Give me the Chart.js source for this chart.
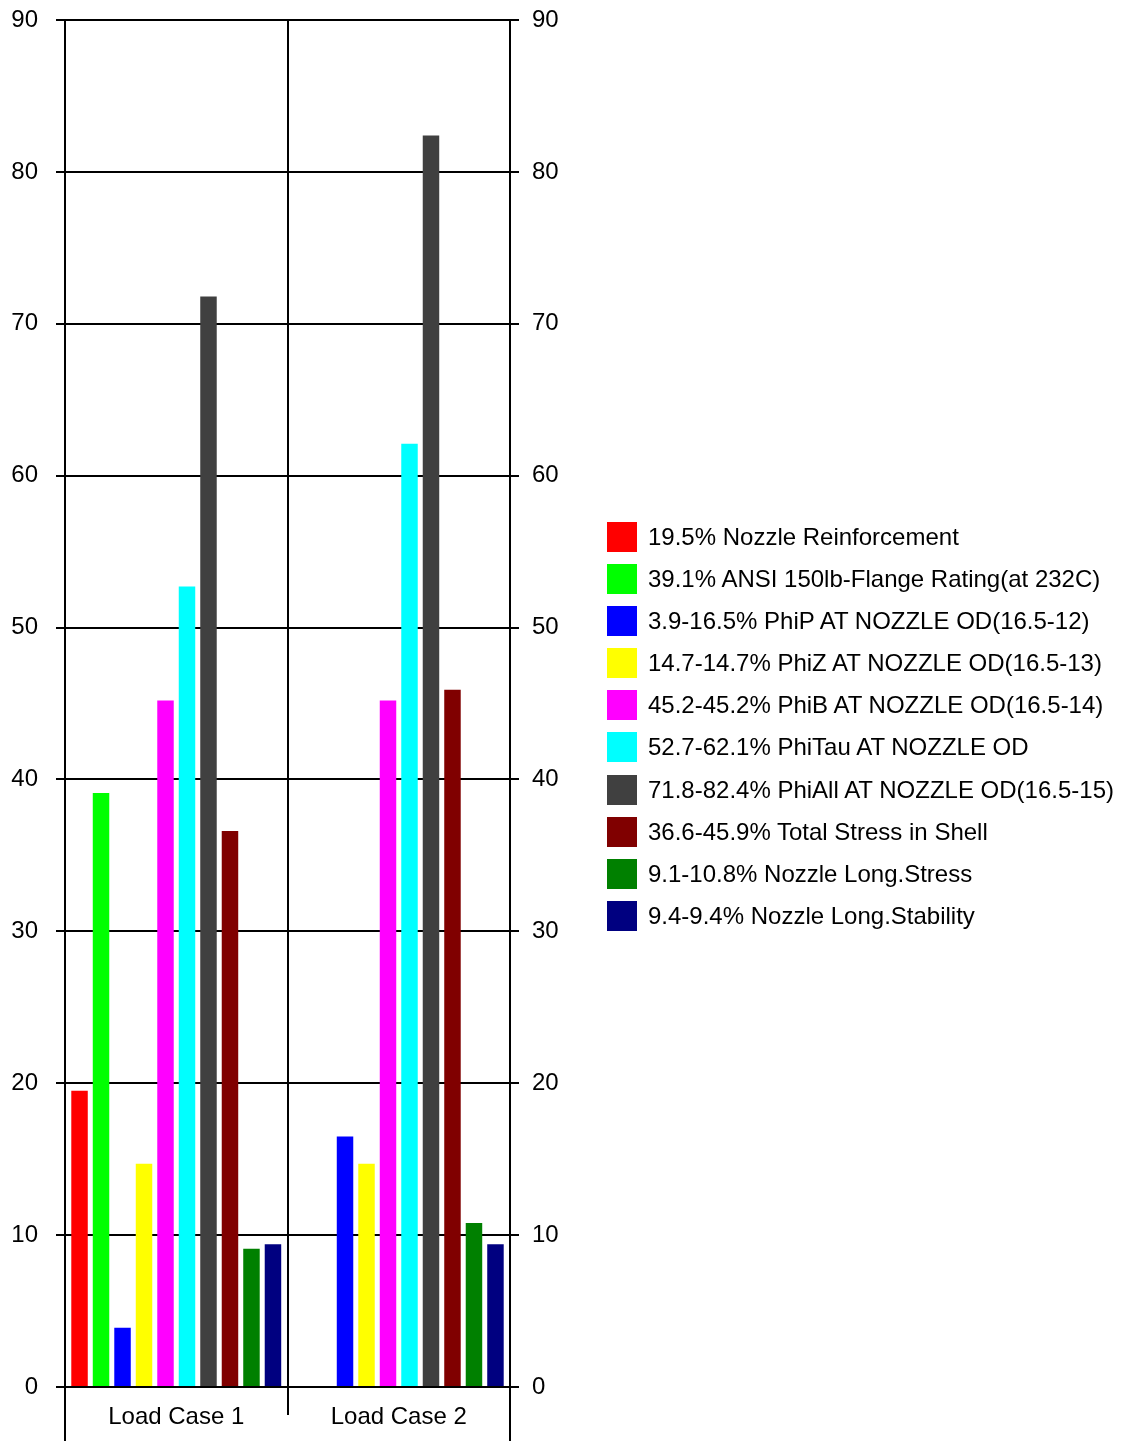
<!DOCTYPE html>
<html>
<head>
<meta charset="utf-8">
<script src="https://cdn.jsdelivr.net/npm/chart.js@4.4.1/dist/chart.umd.min.js"></script>
<style>
  html, body { margin: 0; padding: 0; background: #fff; }
  #wrap { position: relative; width: 1121px; height: 1441px; overflow: hidden; }
  #c { position: absolute; left: 0; top: 0; }
  #legend { position: absolute; left: 607px; top: 522px; font-family: 'Liberation Sans', Arial, sans-serif; font-size: 24px; color: #000; }
  .row { position: relative; height: 42.1px; white-space: nowrap; }
  .box { position: absolute; left: 0; top: 0; width: 30px; height: 30px; }
  .txt { position: absolute; left: 41px; top: 0; line-height: 30px; }
</style>
</head>
<body>
<div id="wrap">
  <canvas id="c" width="1121" height="1441"></canvas>
  <div id="legend"></div>
</div>
<script>
const categories = ['Load Case 1', 'Load Case 2'];
const seriesNames = [
  '19.5% Nozzle Reinforcement',
  '39.1% ANSI 150lb-Flange Rating(at 232C)',
  '3.9-16.5% PhiP AT NOZZLE OD(16.5-12)',
  '14.7-14.7% PhiZ AT NOZZLE OD(16.5-13)',
  '45.2-45.2% PhiB AT NOZZLE OD(16.5-14)',
  '52.7-62.1% PhiTau AT NOZZLE OD',
  '71.8-82.4% PhiAll AT NOZZLE OD(16.5-15)',
  '36.6-45.9% Total Stress in Shell',
  '9.1-10.8% Nozzle Long.Stress',
  '9.4-9.4% Nozzle Long.Stability'
];
const seriesColors = ['#FF0000', '#00FF00', '#0000FF', '#FFFF00', '#FF00FF', '#00FFFF', '#404040', '#800000', '#008000', '#000080'];
const nozzleReinforcement = [19.5, null];
const flangeRating = [39.1, null];
const phiP = [3.9, 16.5];
const phiZ = [14.7, 14.7];
const phiB = [45.2, 45.2];
const phiTau = [52.7, 62.1];
const phiAll = [71.8, 82.4];
const totalStressShell = [36.6, 45.9];
const nozzleLongStress = [9.1, 10.8];
const nozzleLongStability = [9.4, 9.4];
const seriesValues = [nozzleReinforcement, flangeRating, phiP, phiZ, phiB, phiTau, phiAll, totalStressShell, nozzleLongStress, nozzleLongStability];
const yMin = 0, yMax = 90, yStep = 10;

const FONT = { family: "'Liberation Sans', Arial, sans-serif", size: 24 };

const datasets = seriesNames.map((name, i) => ({
  label: name,
  data: seriesValues[i],
  backgroundColor: seriesColors[i],
  borderWidth: 0,
  categoryPercentage: 0.966,
  barPercentage: 0.767
}));

const extendLines = {
  id: 'extendLines',
  afterDraw(chart) {
    const ctx = chart.ctx, a = chart.chartArea;
    ctx.save();
    ctx.strokeStyle = '#000';
    ctx.lineWidth = 2;
    ctx.beginPath();
    ctx.moveTo(a.left, a.bottom); ctx.lineTo(a.left, chart.height);
    ctx.moveTo(a.right, a.bottom); ctx.lineTo(a.right, chart.height);
    ctx.stroke();
    ctx.restore();
  }
};

function noPad(s) { s.paddingTop = 0; s.paddingBottom = 0; s.paddingLeft = 0; s.paddingRight = 0; }

new Chart(document.getElementById('c'), {
  type: 'bar',
  data: { labels: categories, datasets },
  plugins: [extendLines],
  options: {
    responsive: false,
    animation: false,
    layout: { padding: { top: 20, bottom: 0, left: 0, right: 0 } },
    plugins: { legend: { display: false }, tooltip: { enabled: false } },
    scales: {
      x: {
        grid: { color: '#000', lineWidth: 2, tickLength: 28, offset: true },
        border: { display: true, color: '#000', width: 2 },
        ticks: { font: FONT, color: '#000', padding: -12 },
        afterFit(s) { s.height = 54; noPad(s); }
      },
      y: {
        position: 'left', min: yMin, max: yMax,
        ticks: { stepSize: yStep, font: FONT, color: '#000', padding: 18 },
        grid: { color: '#000', lineWidth: 2, tickLength: 9 },
        border: { display: true, color: '#000', width: 2 },
        afterFit(s) { s.width = 65; noPad(s); }
      },
      y2: {
        position: 'right', min: yMin, max: yMax,
        ticks: { stepSize: yStep, font: FONT, color: '#000', padding: 13 },
        grid: { drawOnChartArea: false, color: '#000', lineWidth: 2, tickLength: 9 },
        border: { display: true, color: '#000', width: 2 },
        afterFit(s) { s.width = 611; noPad(s); }
      }
    }
  }
});

const legend = document.getElementById('legend');
seriesNames.forEach((name, i) => {
  const row = document.createElement('div');
  row.className = 'row';
  const box = document.createElement('div');
  box.className = 'box';
  box.style.background = seriesColors[i];
  const txt = document.createElement('div');
  txt.className = 'txt';
  txt.textContent = name;
  row.appendChild(box); row.appendChild(txt);
  legend.appendChild(row);
});
</script>
</body>
</html>
